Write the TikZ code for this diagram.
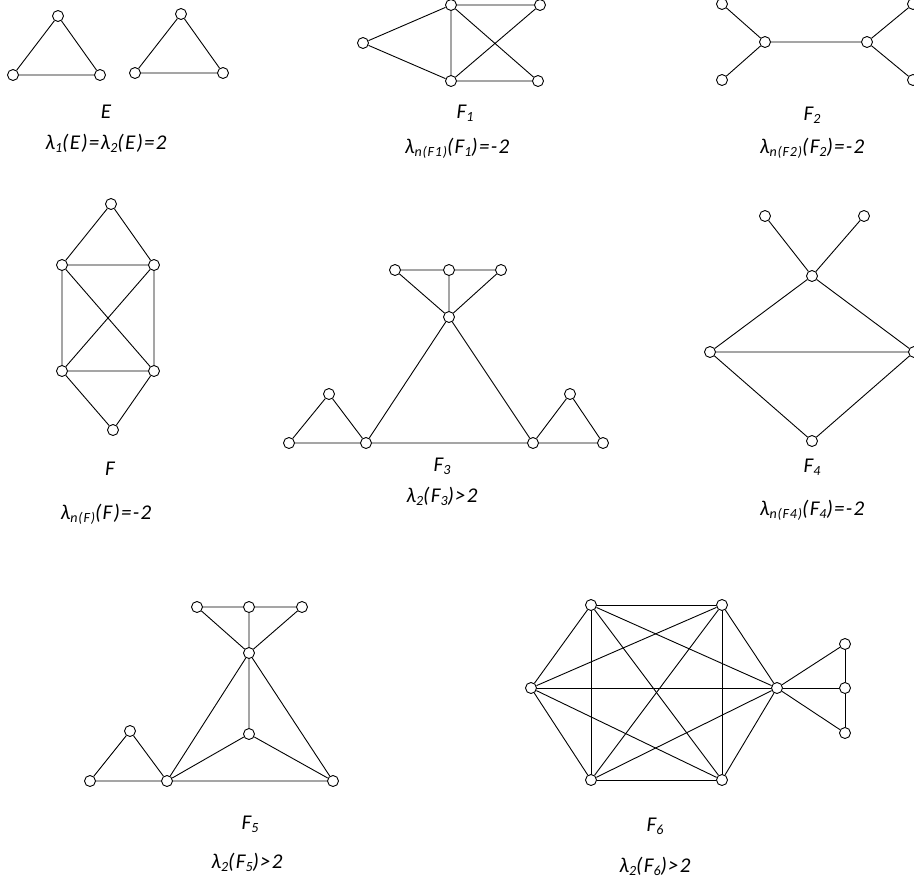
\documentclass[tikz,border=0pt]{standalone}
\usepackage{fontspec}
\setmainfont{Carlito}[LetterSpace=6]
\newcommand{\lsb}[1]{\raisebox{-0.3ex}{\fontsize{14}{14}\selectfont #1}}
\begin{document}
\begin{tikzpicture}[x=1pt,y=-1pt,
  v/.style={circle,draw,fill=white,inner sep=0pt,minimum size=11pt,line width=0.9pt},
  lbl/.style={font=\fontsize{21}{23}\selectfont\itshape,inner sep=0pt},
  every path/.style={line width=0.9pt}]
\useasboundingbox (0,0) rectangle (914,884);
% ---------- E ----------
\node[v] (e1) at (58,16) {}; \node[v] (e2) at (13,75) {}; \node[v] (e3) at (100,75) {};
\node[v] (e4) at (181,14) {}; \node[v] (e5) at (135,73) {}; \node[v] (e6) at (223,73) {};
\draw (e1)--(e2)--(e3)--(e1); \draw (e4)--(e5)--(e6)--(e4);
\node[lbl] (lE) at (106,112) {E};
\node[lbl] (eE) at (106,143) {λ\lsb{1}(E)=λ\lsb{2}(E)=2};
% ---------- F1 ----------
\node[v] (a1) at (363,43) {}; \node[v] (a2) at (451,5) {}; \node[v] (a3) at (451,81) {};
\node[v] (a4) at (540,5) {}; \node[v] (a5) at (538,81) {};
\draw (a1)--(a2) (a1)--(a3) (a2)--(a3) (a2)--(a4) (a3)--(a5) (a2)--(a5) (a3)--(a4);
\node[lbl] (lF1) at (465,113) {F\lsb{1}};
\node[lbl] (eF1) at (457,148) {λ\lsb{n(F1)}(F\lsb{1})=-2};
% ---------- F2 ----------
\node[v] (b1) at (722,4) {}; \node[v] (b2) at (722,80) {}; \node[v] (b3) at (765,42) {};
\node[v] (b4) at (867,42) {}; \node[v] (b5) at (913,4) {}; \node[v] (b6) at (913,80) {};
\draw (b1)--(b3) (b2)--(b3) (b3)--(b4) (b4)--(b5) (b4)--(b6);
\node[lbl] (lF2) at (812,115) {F\lsb{2}};
\node[lbl] (eF2) at (812,148) {λ\lsb{n(F2)}(F\lsb{2})=-2};
% ---------- F ----------
\node[v] (c1) at (111,204) {}; \node[v] (c2) at (62,265) {}; \node[v] (c3) at (154,265) {};
\node[v] (c4) at (62,371) {}; \node[v] (c5) at (154,371) {}; \node[v] (c6) at (113,430) {};
\draw (c1)--(c2) (c1)--(c3) (c2)--(c3) (c2)--(c4) (c3)--(c5) (c2)--(c5) (c3)--(c4) (c4)--(c5) (c4)--(c6) (c5)--(c6);
\node[lbl] (lF) at (110,469) {F};
\node[lbl] (eF) at (106,514) {λ\lsb{n(F)}(F)=-2};
% ---------- F3 ----------
\node[v] (d1) at (395,270) {}; \node[v] (d2) at (449,270) {}; \node[v] (d3) at (501,270) {};
\node[v] (d4) at (449,317) {};
\node[v] (d5) at (289,443) {}; \node[v] (d6) at (366,443) {}; \node[v] (d7) at (533,443) {}; \node[v] (d8) at (603,443) {};
\node[v] (d9) at (329,394) {}; \node[v] (d10) at (570,394) {};
\draw (d1)--(d2) (d2)--(d3) (d1)--(d4) (d2)--(d4) (d3)--(d4) (d4)--(d6) (d4)--(d7)
  (d5)--(d6) (d6)--(d7) (d7)--(d8) (d5)--(d9) (d9)--(d6) (d7)--(d10) (d10)--(d8);
\node[lbl] (lF3) at (442,466) {F\lsb{3}};
\node[lbl] (eF3) at (442,496) {λ\lsb{2}(F\lsb{3})>2};
% ---------- F4 ----------
\node[v] (f1) at (765,216) {}; \node[v] (f2) at (864,216) {}; \node[v] (f3) at (812,276) {};
\node[v] (f4) at (710,352) {}; \node[v] (f5) at (914,352) {}; \node[v] (f6) at (812,441) {};
\draw (f1)--(f3) (f2)--(f3) (f3)--(f4) (f3)--(f5) (f4)--(f5) (f4)--(f6) (f5)--(f6);
\node[lbl] (lF4) at (812,467) {F\lsb{4}};
\node[lbl] (eF4) at (812,510) {λ\lsb{n(F4)}(F\lsb{4})=-2};
% ---------- F5 ----------
\node[v] (g1) at (197,607) {}; \node[v] (g2) at (249,607) {}; \node[v] (g3) at (302,607) {};
\node[v] (g4) at (249,653) {}; \node[v] (g5) at (249,734) {};
\node[v] (g6) at (90,781) {}; \node[v] (g7) at (167,781) {}; \node[v] (g8) at (333,781) {};
\node[v] (g9) at (130,731) {};
\draw (g1)--(g2) (g2)--(g3) (g1)--(g4) (g2)--(g4) (g3)--(g4) (g4)--(g5) (g4)--(g7) (g4)--(g8)
  (g5)--(g7) (g5)--(g8) (g7)--(g8) (g6)--(g7) (g6)--(g9) (g9)--(g7);
\node[lbl] (lF5) at (250,824) {F\lsb{5}};
\node[lbl] (eF5) at (247,862) {λ\lsb{2}(F\lsb{5})>2};
% ---------- F6 ----------
\node[v] (h1) at (591,605) {}; \node[v] (h2) at (722,605) {}; \node[v] (h3) at (531,688) {};
\node[v] (h4) at (777,688) {}; \node[v] (h5) at (591,780) {}; \node[v] (h6) at (722,780) {};
\node[v] (h7) at (845,644) {}; \node[v] (h8) at (845,688) {}; \node[v] (h9) at (845,733) {};
\foreach \p/\q in {h1/h2,h1/h3,h1/h4,h1/h5,h1/h6,h2/h3,h2/h4,h2/h5,h2/h6,h3/h4,h3/h5,h3/h6,h4/h5,h4/h6,h5/h6,h4/h7,h4/h8,h4/h9,h7/h8,h8/h9}
  \draw (\p)--(\q);
\node[lbl] (lF6) at (655,826) {F\lsb{6}};
\node[lbl] (eF6) at (655,866) {λ\lsb{2}(F\lsb{6})>2};
\end{tikzpicture}
\end{document}
